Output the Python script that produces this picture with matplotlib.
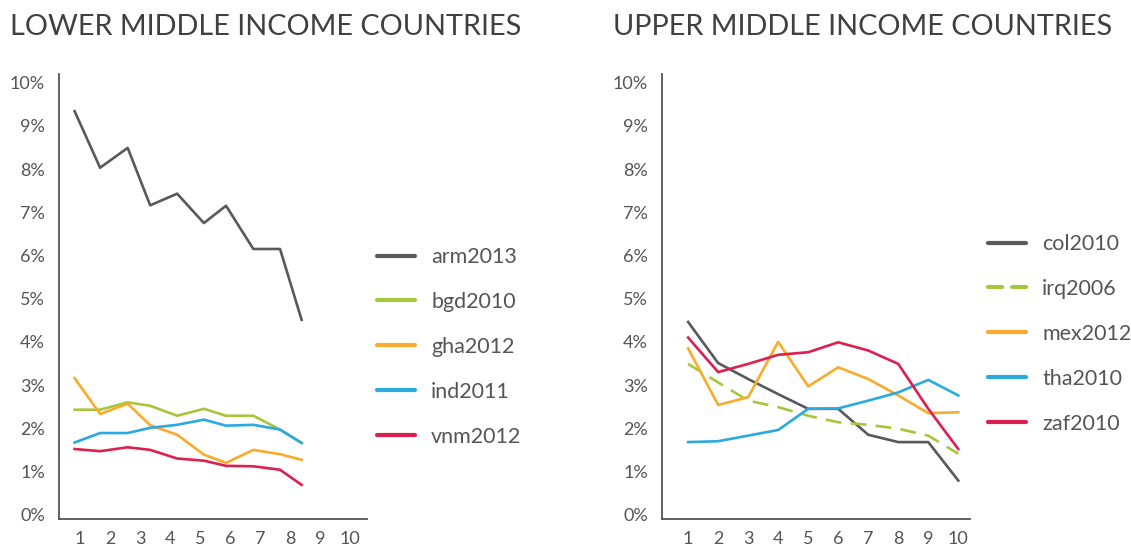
import numpy as np
import matplotlib.pyplot as plt
from matplotlib.lines import Line2D

plt.rcParams['font.family'] = ['Lato', 'DejaVu Sans']

# left panel: 10 points spread between tick 1 and ~8.4
left_x = [0.82, 1.67, 2.59, 3.34, 4.24, 5.13, 5.87, 6.78, 7.67, 8.39]
left_names = ["arm2013", "bgd2010", "gha2012", "ind2011", "vnm2012"]
arm = [9.34, 8.03, 8.49, 7.16, 7.43, 6.75, 7.15, 6.15, 6.15, 4.51]
bgd = [2.43, 2.43, 2.60, 2.52, 2.29, 2.45, 2.29, 2.29, 1.97, 1.66]
gha = [3.16, 2.33, 2.57, 2.07, 1.85, 1.39, 1.20, 1.50, 1.40, 1.27]
ind = [1.67, 1.89, 1.89, 2.01, 2.08, 2.20, 2.06, 2.08, 1.97, 1.66]
vnm = [1.52, 1.47, 1.56, 1.50, 1.30, 1.25, 1.13, 1.12, 1.04, 0.69]

right_x = [1, 2, 3, 4, 5, 6, 7, 8, 9, 10]
right_names = ["col2010", "irq2006", "mex2012", "tha2010", "zaf2010"]
col = [4.46, 3.51, 3.14, 2.79, 2.45, 2.45, 1.85, 1.68, 1.68, 0.79]
irq = [3.49, 3.06, 2.64, 2.49, 2.29, 2.14, 2.08, 1.99, 1.83, 1.41]
mex = [3.85, 2.54, 2.72, 4.00, 2.97, 3.41, 3.14, 2.76, 2.35, 2.37]
tha = [1.68, 1.70, 1.83, 1.96, 2.45, 2.46, 2.64, 2.83, 3.12, 2.76]
zaf = [4.10, 3.30, 3.49, 3.70, 3.76, 3.99, 3.80, 3.49, 2.45, 1.52]

colors = ["#58595b", "#a8c63c", "#fbab2b", "#2ba9e1", "#dc1f4f"]
text_col = "#555555"

W, H = 1131, 548
fig = plt.figure(figsize=(W / 100, H / 100), dpi=100)


def px_axes(x0, y0, x1, y1):
    return fig.add_axes([x0 / W, 1 - y1 / H, (x1 - x0) / W, (y1 - y0) / H])


def style(ax, xlim):
    ax.set_xlim(*xlim)
    ax.set_ylim(-0.1, 10.2)
    for s in ["top", "right"]:
        ax.spines[s].set_visible(False)
    for s in ["left", "bottom"]:
        ax.spines[s].set_color("#555555")
        ax.spines[s].set_linewidth(1.3)
    ax.set_xticks(range(1, 11))
    ax.set_yticks(range(0, 11))
    ax.set_yticklabels([f"{i}%" for i in range(0, 11)])
    ax.tick_params(length=0, labelsize=13, colors=text_col, pad=10)
    ax.tick_params(axis="x", pad=9)


ax1 = px_axes(59, 74, 367, 519)
style(ax1, (0.3, 10.57))
left_styles = ["-"] * 5
for ys, c, n in zip([arm, bgd, gha, ind, vnm], colors, left_names):
    ax1.plot(left_x, ys, color=c, lw=1.9, label=n)

ax2 = px_axes(662, 74, 970, 519)
style(ax2, (0.13, 10.39))
right_styles = ["-", (0, (6, 3.5)), "-", "-", "-"]
for ys, c, ls, n in zip([col, irq, mex, tha, zaf], colors, right_styles, right_names):
    ax2.plot(right_x, ys, color=c, lw=1.9, ls=ls, label=n)

fig.text(10 / W, 1 - 27 / H, "LOWER MIDDLE INCOME COUNTRIES", fontsize=20.8,
         color="#404040", va="center", ha="left")
fig.text(613 / W, 1 - 27 / H, "UPPER MIDDLE INCOME COUNTRIES", fontsize=20.8,
         color="#404040", va="center", ha="left")

for ax, x0, yc, sts in [(ax1, 377, 347, left_styles), (ax2, 988, 334, right_styles)]:
    leg = ax.legend(loc="center left", bbox_to_anchor=(x0 / W, 1 - yc / H),
                    bbox_transform=fig.transFigure, frameon=False, fontsize=15.5,
                    handlelength=1.77, handletextpad=0.74, labelspacing=1.16,
                    borderpad=0, borderaxespad=0, labelcolor=text_col)
    for h, ls in zip(leg.get_lines(), sts):
        h.set_linewidth(3)
        h.set_solid_capstyle("round")
        h.set_dash_capstyle("round")
        if ls != "-":
            h.set_dashes([3.4, 2.4])

fig.savefig("out.png", dpi=100)
